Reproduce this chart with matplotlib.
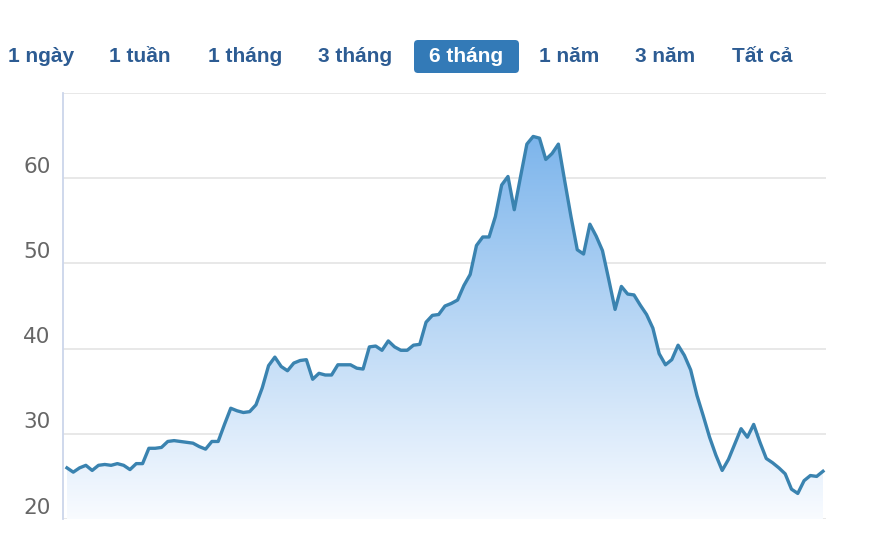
import numpy as np
import matplotlib
matplotlib.use('Agg')
from matplotlib import pyplot as plt
from matplotlib.patches import FancyBboxPatch
import matplotlib.transforms as mtransforms

# Price series, roughly one point per trading day over 6 months
prices = [
    26.0, 25.5, 26.0, 26.3, 25.7, 26.3, 26.4, 26.3, 26.5, 26.3,
    25.8, 26.5, 26.5, 28.3, 28.3, 28.4, 29.1, 29.2, 29.1, 29.0,
    28.9, 28.5, 28.2, 29.1, 29.1, 31.1, 33.0, 32.7, 32.5, 32.6,
    33.4, 35.4, 38.0, 39.0, 37.9, 37.4, 38.3, 38.6, 38.7, 36.4,
    37.1, 36.9, 36.9, 38.1, 38.1, 38.1, 37.7, 37.6, 40.2, 40.3,
    39.8, 40.9, 40.2, 39.8, 39.8, 40.4, 40.5, 43.1, 43.9, 44.0,
    45.0, 45.3, 45.7, 47.4, 48.7, 52.1, 53.1, 53.1, 55.5, 59.2,
    60.2, 56.3, 60.2, 64.0, 64.9, 64.7, 62.2, 62.9, 64.0, 59.7,
    55.5, 51.6, 51.1, 54.6, 53.2, 51.5, 48.1, 44.6, 47.3, 46.4,
    46.3, 45.1, 44.0, 42.4, 39.4, 38.1, 38.7, 40.4, 39.2, 37.5,
    34.5, 32.1, 29.6, 27.5, 25.7, 27.0, 28.8, 30.6, 29.6, 31.1,
    29.0, 27.1, 26.6, 26.0, 25.3, 23.5, 23.0, 24.5, 25.1, 25.0,
    25.6,
]
y_ticks = [20, 30, 40, 50, 60]
range_buttons = ['1 ngày', '1 tuần', '1 tháng', '3 tháng', '6 tháng', '1 năm', '3 năm', 'Tất cả']
button_centers = [41, 140, 245, 355, 466, 569, 665, 762]  # px from left
selected = '6 tháng'

W, H = 878, 550
fig = plt.figure(figsize=(W / 100, H / 100), dpi=100)

# plot area in pixels: left 63, right 826, top 93, bottom 519
ax = fig.add_axes([63 / W, 1 - 519 / H, (826 - 63) / W, (519 - 93) / H])

x = np.arange(len(prices))
y = np.array(prices)

ax.set_xlim(-0.63, len(prices) - 1 + 0.48)
ax.set_ylim(20, 70)

# gridlines
for v in [20, 30, 40, 50, 60, 70]:
    ax.axhline(v, color='#e6e6e6', lw=1.3, zorder=0)

# gradient fill under the line
fill = ax.fill_between(x, y, 20, color='none', lw=0)
top_col = np.array([0.49, 0.71, 0.925])
bot_col = np.array([0.975, 0.985, 1.0])
t = np.linspace(0, 1, 256)[:, None]
grad = (top_col * (1 - t) + bot_col * t)[:, None, :]
img = ax.imshow(grad, extent=[x[0], x[-1], 20, y.max()], aspect='auto',
                origin='upper', zorder=1, interpolation='bilinear')
img.set_clip_path(fill.get_paths()[0], transform=ax.transData)

ax.plot(x, y, color='#3a83b0', lw=2.4, zorder=3, solid_joinstyle='round')

# axes styling
for side in ['top', 'right', 'bottom']:
    ax.spines[side].set_visible(False)
ax.spines['left'].set_color('#ccd6eb')
ax.spines['left'].set_linewidth(1.3)
ax.set_xticks([])
ax.set_yticks(y_ticks)
ax.set_yticklabels([str(v) for v in y_ticks])
ax.tick_params(axis='y', length=0, pad=9, labelsize=15.5, labelcolor='#666666')
offset = mtransforms.ScaledTranslation(0, 13.5 / 100, fig.dpi_scale_trans)
for lab in ax.get_yticklabels():
    lab.set_transform(lab.get_transform() + offset)

# range selector buttons
btn = FancyBboxPatch((4.14, (H - 73) / 100), 1.05, 0.33,
                     boxstyle='round,pad=0,rounding_size=0.04',
                     transform=fig.dpi_scale_trans, facecolor='#337ab7',
                     edgecolor='none')
fig.patches.append(btn)
for label, cx in zip(range_buttons, button_centers):
    col = 'white' if label == selected else '#2d5c93'
    fig.text(cx / W, 1 - 56 / H, label, ha='center', va='center',
             fontsize=15, fontweight='bold', color=col,
             family=['Liberation Sans', 'DejaVu Sans'])

plt.savefig('out.png', dpi=100)
